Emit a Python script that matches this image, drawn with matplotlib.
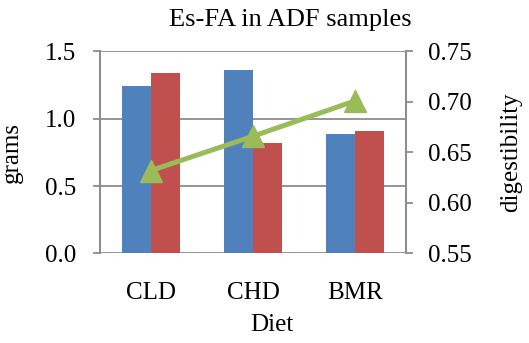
import numpy as np
from matplotlib import pyplot as plt

# data
diets = ['CLD', 'CHD', 'BMR']
grams_blue = [1.24, 1.36, 0.89]
grams_red = [1.34, 0.82, 0.91]
digestibility = [0.632, 0.666, 0.701]

plt.rcParams['font.family'] = ['Liberation Serif', 'DejaVu Serif']

grid_gray = '#8c8c8c'
fig = plt.figure(figsize=(5.29, 3.43), dpi=100)
ax = fig.add_axes([0.189, 0.2615, 0.5785, 0.5885])
ax2 = ax.twinx()

x = np.arange(len(diets))
w = 0.285
ax.bar(x - w / 2, grams_blue, w, color='#4F81BD', zorder=2)
ax.bar(x + w / 2, grams_red, w, color='#C0504D', zorder=2)
ax2.plot(x, digestibility, color='#9BBB59', lw=3.6, marker='^', ms=16, zorder=3)

ax.set_xlim(-0.5, 2.5)
ax.set_ylim(0, 1.5)
ax.set_yticks([0, 0.5, 1.0, 1.5])
ax.set_yticklabels(['0.0', '0.5', '1.0', '1.5'])
ax2.set_ylim(0.55, 0.75)
ax2.set_yticks([0.55, 0.60, 0.65, 0.70, 0.75])
ax2.set_yticklabels(['0.55', '0.60', '0.65', '0.70', '0.75'])
ax.set_xticks(x)
ax.set_xticklabels(diets)

ax.grid(axis='y', color=grid_gray, lw=1.3, zorder=0)
ax.set_axisbelow(True)
for a in (ax, ax2):
    for s in ('top', 'bottom'):
        a.spines[s].set_visible(False)
    a.spines['left'].set_color(grid_gray)
    a.spines['right'].set_color(grid_gray)
    a.spines['left'].set_linewidth(1.3)
    a.spines['right'].set_linewidth(1.3)
ax.tick_params(axis='y', direction='out', length=5, width=1.3, color=grid_gray,
               labelsize=18, pad=12)
ax2.tick_params(axis='y', direction='out', length=5, width=1.3, color=grid_gray,
                labelsize=18, pad=11)
ax.tick_params(axis='x', length=0, labelsize=18, pad=21)

# title sits right of the plot centre, as in the original
fig.text(0.548, 0.942, 'Es-FA in ADF samples', fontsize=19, ha='center', va='center')
ax.set_xlabel('Diet', fontsize=18)
ax.xaxis.set_label_coords(0.562, -0.30)
ax.set_ylabel('grams', fontsize=18, labelpad=16)
ax2.set_ylabel('digestibility', fontsize=18, labelpad=20)

fig.savefig('out.png', dpi=100)
